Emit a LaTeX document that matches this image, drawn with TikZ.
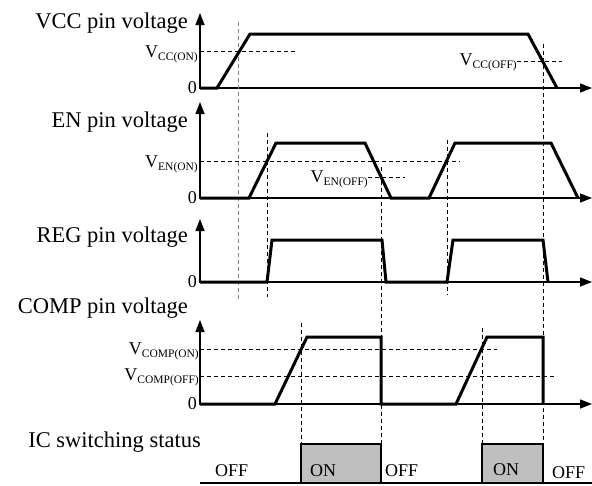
\documentclass[tikz,border=0pt]{standalone}
\usepackage{fontspec}
\setmainfont{Liberation Serif}
\usetikzlibrary{arrows.meta}
\definecolor{boxgray}{gray}{0.75}
\newcommand{\vsub}[1]{V\raisebox{-3pt}{\fontsize{11.5}{12}\selectfont #1}}

\begin{document}
\begin{tikzpicture}[x=1pt,y=-1pt,
  axis/.style={line width=1.4pt,{Triangle[length=12pt,width=9pt]}-{Triangle[length=12pt,width=9pt]}},
  wave/.style={line width=3pt},
  guide/.style={line width=0.9pt,dash pattern=on 4pt off 3pt},
  title/.style={font=\fontsize{22.5}{27}\selectfont,anchor=base east,inner sep=0pt},
  level/.style={font=\fontsize{18}{20}\selectfont,anchor=base east,inner sep=0pt},
  status/.style={font=\fontsize{18}{20}\selectfont,anchor=base west,inner sep=0pt}]
\useasboundingbox (0,0) rectangle (592,485);
% axes of the four panels
\foreach \b/\t in {88/13,198/102,282/219,404/320} {
  \draw[axis] (200,\t) -- (200,\b) -- (592,\b);
  \node[level,anchor=east] (zero\b) at (197,\b) {0};
}
\node[title] (vcctitle) at (188,28) {VCC pin voltage};
\node[title] (entitle) at (188,127) {EN pin voltage};
\node[title] (regtitle) at (188,242) {REG pin voltage};
\node[title] (comptitle) at (188,313) {COMP pin voltage};
\node[title] (ictitle) at (201,447) {IC switching status};
% threshold levels
\draw[guide] (200,51) -- (298,51);
\node[level] (vccon) at (198,57) {\vsub{CC(ON)}};
\draw[guide] (517,61) -- (562,61);
\node[level] (vccoff) at (517,65) {\vsub{CC(OFF)}};
\draw[guide] (200,161) -- (460,161);
\node[level] (enon) at (198,167) {\vsub{EN(ON)}};
\draw[guide] (368,177) -- (405,177);
\node[level] (enoff) at (368,182) {\vsub{EN(OFF)}};
\draw[guide] (200,349) -- (497,349);
\node[level] (compon) at (199,354) {\vsub{COMP(ON)}};
\draw[guide] (200,376) -- (557,376);
\node[level] (compoff) at (199,380) {\vsub{COMP(OFF)}};
% time markers
\draw[guide,gray] (238,22) -- (238,300);
\foreach \x/\t/\b in {267/133/297,447/140/295,381/167/444,543/44/444,301/323/444,482/328/444}
  \draw[guide] (\x,\t) -- (\x,\b);
% waveforms
\draw[wave] (200,88) -- (217,88) -- (250,34) -- (528,34) -- (557,88);
\draw[wave] (200,198) -- (249,198) -- (276,143) -- (365,143) -- (391,198)
  -- (429,198) -- (455,143) -- (551,143) -- (578,198);
\draw[wave] (200,282) -- (267,282) -- (272,240) -- (382,240) -- (386,282)
  -- (447,282) -- (453,240) -- (543,240) -- (548,282);
\draw[wave] (200,404) -- (275,404) -- (307,337) -- (381,337) -- (381,404)
  -- (456,404) -- (487,337) -- (543,337) -- (543,404);
% switching status
\filldraw[fill=boxgray,line width=2pt] (301,483) rectangle (381,444);
\filldraw[fill=boxgray,line width=2pt] (482,483) rectangle (543,444);
\draw[line width=2.2pt] (200,483) -- (592,483);
\node[status] (off1) at (215,476) {OFF};
\node[status] (on1) at (310,476) {ON};
\node[status] (off2) at (385,476) {OFF};
\node[status] (on2) at (493,475) {ON};
\node[status] (off3) at (552,478) {OFF};
\end{tikzpicture}
\end{document}
